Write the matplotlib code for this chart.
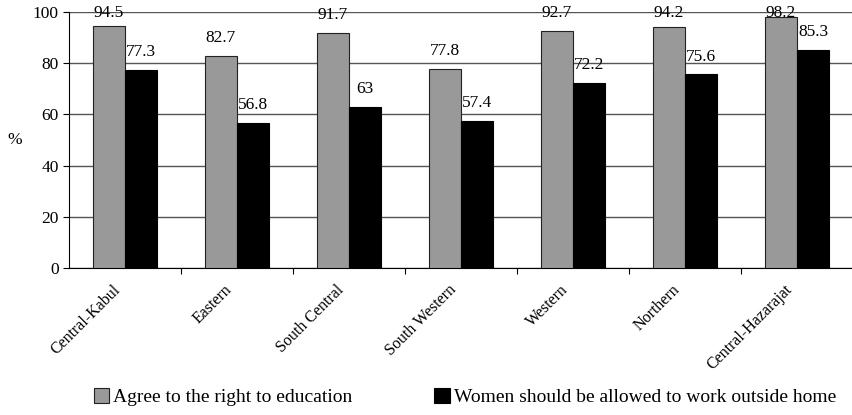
import matplotlib.pyplot as plt
import matplotlib.transforms as mtransforms
import numpy as np

plt.rcParams['font.family'] = ['Liberation Serif', 'DejaVu Serif']

regions = ["Central-Kabul", "Eastern", "South Central", "South Western",
           "Western", "Northern", "Central-Hazarajat"]
education = [94.5, 82.7, 91.7, 77.8, 92.7, 94.2, 98.2]
work = [77.3, 56.8, 63, 57.4, 72.2, 75.6, 85.3]

fig = plt.figure(figsize=(8.53, 4.15), dpi=100)
ax = fig.add_axes([69/853, 1-268/415, (853-69)/853, (268-12)/415])

x = np.arange(len(regions))
w = 0.29
b1 = ax.bar(x - w/2, education, w, color='#999999', edgecolor='#222222', linewidth=0.8,
            label='Agree to the right to education', zorder=3)
b2 = ax.bar(x + w/2, work, w, color='black', edgecolor='black', linewidth=0.8,
            label='Women should be allowed to work outside home', zorder=3)

# value labels, kept inside the top of the plot area
for xi, v in zip(x - w/2, education):
    ax.text(xi, min(v + 7, 99.6), '%g' % v, ha='center', va='center', fontsize=12.5, zorder=4)
for xi, v in zip(x + w/2, work):
    ax.text(xi, min(v + 7, 99.6), '%g' % v, ha='center', va='center', fontsize=12.5, zorder=4)

ax.set_ylim(0, 100)
ax.set_xlim(-0.5, 6.44)
ax.set_yticks([0, 20, 40, 60, 80, 100])
ax.tick_params(axis='y', labelsize=12.5, direction='out', length=4)
ax.yaxis.grid(True, color='#555555', linewidth=1)
ax.set_axisbelow(True)

# ticks between categories, labels at category centers
ax.set_xticks(np.arange(len(regions)) + 0.5)
ax.set_xticklabels([])
ax.tick_params(axis='x', direction='out', length=4)
ax.set_xticks(x, minor=True)
ax.set_xticklabels(regions, minor=True, rotation=45, ha='right',
                   rotation_mode='anchor', fontsize=11.5)
ax.tick_params(axis='x', which='minor', length=0, pad=10)
shift = mtransforms.ScaledTranslation(-13/100, 0, fig.dpi_scale_trans)
for lab in ax.xaxis.get_minorticklabels():
    lab.set_transform(lab.get_transform() + shift)

for s in ['top', 'right']:
    ax.spines[s].set_visible(False)
ax.spines['left'].set_color('black')
ax.spines['bottom'].set_color('black')

ax.set_ylabel('%', rotation=0, fontsize=12.5, va='center', ha='center')
ax.yaxis.set_label_coords(-0.069, 0.5)

fig.legend(handles=[b1, b2], loc='center', bbox_to_anchor=(0.545, 1-397/415),
           ncol=2, frameon=False, fontsize=14, handlelength=0.8, handleheight=0.8,
           handletextpad=0.2, columnspacing=4.2)

fig.savefig('out.png', dpi=100)
